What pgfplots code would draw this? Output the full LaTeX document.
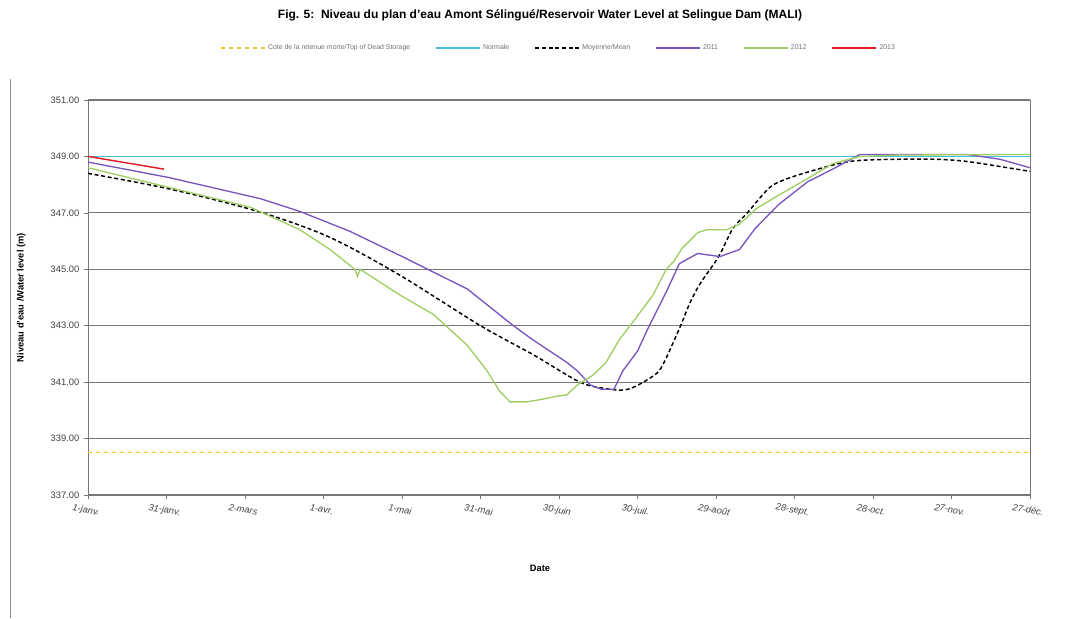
\documentclass[border=0pt]{standalone}
\usepackage{pgfplots}
\pgfplotsset{compat=1.18}
\usepackage{fontspec}
\setmainfont{Liberation Sans}
\definecolor{cPurple}{RGB}{120,85,190}
\definecolor{cGreen}{RGB}{160,205,100}
\definecolor{cRed}{RGB}{230,30,40}
\definecolor{cCyan}{RGB}{70,190,215}
\definecolor{cYellow}{RGB}{245,200,40}
\definecolor{cGrid}{RGB}{120,120,120}
\begin{document}
\begin{tikzpicture}
\begin{axis}[
  scale only axis,
  width=706.5pt, height=296.25pt,
  xmin=0, xmax=360, ymin=337, ymax=351,
  xtick={0,30,...,360},
  xticklabels={1-janv.,31-janv.,2-mars,1-avr.,1-mai,31-mai,30-juin,30-juil.,29-août,28-sept.,28-oct.,27-nov.,27-déc.},
  ytick={337,339,...,351},
  yticklabel style={/pgf/number format/.cd, fixed, fixed zerofill, precision=2, assume math mode=true},
  ticklabel style={font=\fontsize{7}{8}\selectfont, text=black!75},
  xticklabel style={rotate=-10, anchor=north, font=\fontsize{7}{8}\selectfont\itshape, yshift=-2pt},
  tick align=outside,
  xtick pos=bottom, ytick pos=left,
  major tick length=3pt,
  tick style={cGrid, line width=0.5pt},
  ymajorgrids,
  grid style={cGrid, line width=0.8pt},
  axis line style={cGrid, line width=0.6pt},
  axis x line*=bottom,
  axis y line*=left,
  clip=false,
  legend columns=6,
  legend style={at={(axis description cs:0.5,1)}, anchor=center, yshift=39pt, draw=none,
    font=\fontsize{5.2}{6}\selectfont, text=black!55,
    /tikz/every even column/.append style={column sep=17pt}},
  legend image code/.code={\draw[#1] (0cm,0cm) -- (1.15cm,0cm);},
]
\addplot[cYellow, dashed, line width=1pt] coordinates {(0,338.5) (360,338.5)};
\addlegendentry{Cote de la retenue morte/Top of Dead Storage}
\addplot[cCyan, line width=0.9pt] coordinates {(0,349) (360,349)};
\addlegendentry{Normale}
\addplot[black, dash pattern=on 3pt off 2pt, line width=1.1pt, smooth] coordinates {
(0,348.4) (31,347.85) (65,347.05) (92,346.15) (119,344.8) (150,343.0) (170,341.98) (188,341.0) (198,340.77) (204,340.72) (208,340.8) (214,341.1) (219,341.5) (226,342.9) (230,343.8) (234,344.5) (241,345.45) (246.5,346.45) (252,347.0) (257,347.55) (262,348.0) (272,348.36) (291,348.82) (310,348.9) (323,348.9) (336,348.82) (360,348.47)};
\addlegendentry{Moyenne/Mean}
\addplot[cPurple, line width=1pt] coordinates {
(0,348.8) (31,348.25) (66,347.5) (81,347.05) (100,346.35) (119,345.5) (132,344.9) (145,344.3) (162,343.04) (170,342.5) (176.5,342.1) (183,341.7) (187,341.4) (192,340.9) (196,340.75) (201,340.75) (204.4,341.4) (210,342.1) (214,342.9) (221,344.2) (226,345.2) (233,345.56) (241.5,345.45) (249,345.7) (255,346.45) (264,347.3) (275,348.1) (285,348.57) (295,349.07) (336,349.07) (348.5,348.9) (360,348.6)};
\addlegendentry{2011}
\addplot[cGreen, line width=1pt] coordinates {
(0,348.6) (31,347.9) (62,347.2) (81,346.4) (92.5,345.7) (102,345.0) (103,344.75) (104,345.0) (119,344.1) (132,343.4) (145,342.3) (152.5,341.4) (157.4,340.67) (161.3,340.3) (167.7,340.3) (174,340.4) (179,340.5) (183,340.55) (187,340.9) (193,341.25) (198,341.7) (203,342.5) (208,343.1) (216,344.1) (221,345.0) (224,345.3) (227,345.74) (233,346.3) (236.5,346.4) (244,346.4) (249,346.6) (255.4,347.15) (264.4,347.65) (274.7,348.2) (284.7,348.75) (295,349.0) (310,349.05) (360,349.07)};
\addlegendentry{2012}
\addplot[cRed, line width=1.1pt] coordinates {(0,349.0) (29,348.55)};
\addlegendentry{2013}
\draw[cGrid, line width=0.6pt] (axis cs:360,337) -- (axis cs:360,351);
\end{axis}
\node[font=\fontsize{9}{10}\selectfont\bfseries] at (339pt,360pt) {Fig. 5:\ \ Niveau du plan d'eau Amont Sélingué/Reservoir Water Level at Selingue Dam (MALI)};
\node[font=\fontsize{7}{8}\selectfont\bfseries, rotate=90] at (-50pt,148pt) {Niveau d'eau /Water level (m)};
\node[font=\fontsize{7}{8}\selectfont\bfseries] at (339pt,-55pt) {Date};
\draw[black!45, line width=0.6pt] (-58.5pt,312pt) -- (-58.5pt,-92.25pt);
\useasboundingbox (-66pt,-92.25pt) rectangle (746.25pt,371.25pt);
\end{tikzpicture}
\end{document}
